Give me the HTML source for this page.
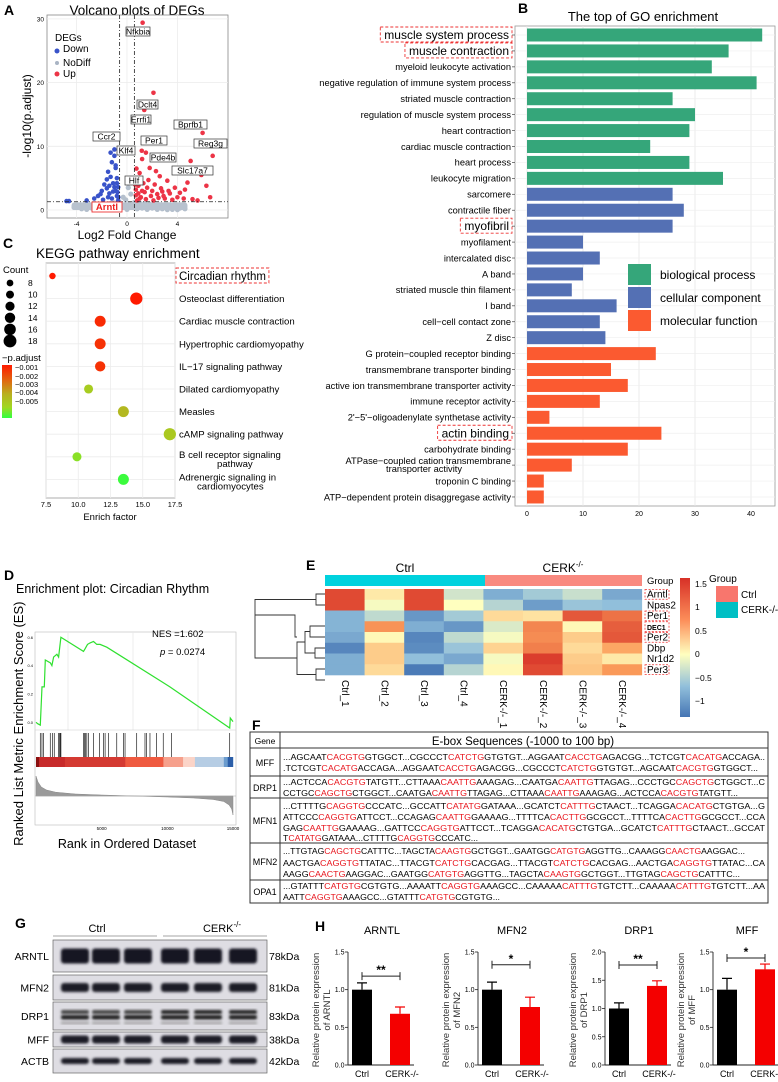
<!DOCTYPE html>
<html><head><meta charset="utf-8"><style>
html,body{margin:0;padding:0;background:#fff;}
svg{display:block;font-family:"Liberation Sans",sans-serif;}
</style></head><body>
<svg id="fig" xmlns="http://www.w3.org/2000/svg" width="778" height="1082" viewBox="0 0 778 1082">
<defs>
<filter id="blur" x="-20%" y="-50%" width="140%" height="200%"><feGaussianBlur stdDeviation="1.4"/></filter>
<linearGradient id="padjGrad" x1="0" y1="0" x2="0" y2="1">
<stop offset="0" stop-color="#ff1a00"/><stop offset="0.3" stop-color="#e06a10"/><stop offset="0.55" stop-color="#b8b020"/><stop offset="0.8" stop-color="#a0d820"/><stop offset="1" stop-color="#30ff40"/></linearGradient>
<linearGradient id="heatGrad" x1="0" y1="0" x2="0" y2="1">
<stop offset="0" stop-color="#d73027"/><stop offset="0.3" stop-color="#fc8d59"/><stop offset="0.55" stop-color="#ffffbf"/><stop offset="0.78" stop-color="#91bfdb"/><stop offset="1" stop-color="#4575b4"/></linearGradient>
</defs>

<!-- ============ Panel A ============ -->
<g>
<text x="4" y="15" font-size="14" font-weight="bold">A</text>
<text x="137" y="15" font-size="13.5" text-anchor="middle">Volcano plots of DEGs</text>
<rect x="47" y="15" width="181" height="203" fill="#fff" stroke="#888" stroke-width="0.8"/>
<g id="volcanoGrid"></g>
<g id="volcano"></g>
<text transform="translate(31,116) rotate(-90)" font-size="12" text-anchor="middle">-log10(p.adjust)</text>
<text x="127" y="239" font-size="12" text-anchor="middle">Log2 Fold Change</text>
<text x="55" y="41" font-size="10">DEGs</text>
<circle cx="57" cy="51" r="2.5" fill="#3953c9"/>
<text x="63" y="52" font-size="10">Down</text>
<circle cx="57" cy="63" r="2" fill="#a9b4c4"/>
<text x="63" y="66" font-size="10">NoDiff</text>
<circle cx="57" cy="74" r="2.5" fill="#ec3446"/>
<text x="63" y="77" font-size="10">Up</text>
<g font-size="8.5">
<rect x="126" y="27" width="24" height="9" fill="#fff" stroke="#333" stroke-width="0.7"/><text x="138" y="34.5" text-anchor="middle">Nfkbia</text>
<rect x="137" y="100" width="21" height="9" fill="#fff" stroke="#333" stroke-width="0.7"/><text x="147.5" y="107.5" text-anchor="middle">Dclt4</text>
<rect x="131" y="115" width="20" height="9" fill="#fff" stroke="#333" stroke-width="0.7"/><text x="141" y="122.5" text-anchor="middle">Errfi1</text>
<rect x="174" y="120" width="33" height="9" fill="#fff" stroke="#333" stroke-width="0.7"/><text x="190.5" y="127.5" text-anchor="middle">Bprfb1</text>
<rect x="194" y="139" width="33" height="9" fill="#fff" stroke="#333" stroke-width="0.7"/><text x="210.5" y="146.5" text-anchor="middle">Reg3g</text>
<rect x="141" y="136" width="26" height="9" fill="#fff" stroke="#333" stroke-width="0.7"/><text x="154" y="143.5" text-anchor="middle">Per1</text>
<rect x="93" y="132" width="27" height="9" fill="#fff" stroke="#333" stroke-width="0.7"/><text x="106.5" y="139.5" text-anchor="middle">Ccr2</text>
<rect x="117" y="146" width="18" height="9" fill="#fff" stroke="#333" stroke-width="0.7"/><text x="126" y="153.5" text-anchor="middle">Klf4</text>
<rect x="150" y="153" width="26" height="9" fill="#fff" stroke="#333" stroke-width="0.7"/><text x="163" y="160.5" text-anchor="middle">Pde4b</text>
<rect x="172" y="166" width="41" height="9" fill="#fff" stroke="#333" stroke-width="0.7"/><text x="192.5" y="173.5" text-anchor="middle">Slc17a7</text>
<rect x="125" y="176" width="18" height="9" fill="#fff" stroke="#333" stroke-width="0.7"/><text x="134" y="183.5" text-anchor="middle">Hlf</text>
<rect x="92" y="202" width="30" height="10" fill="#fff" stroke="#e33" stroke-width="0.9"/><text x="107" y="210" text-anchor="middle" fill="#e22" font-weight="bold" font-size="9.5">Arntl</text>
</g>
</g>

<!-- ============ Panel B ============ -->
<g>
<text x="518" y="13" font-size="14" font-weight="bold">B</text>
<text x="643" y="21" font-size="13" text-anchor="middle">The top of GO enrichment</text>
<rect x="515" y="26" width="260" height="480" fill="#fff" stroke="#999" stroke-width="0.8"/>
<g id="goChart"></g>
<rect x="628" y="264" width="23" height="21" fill="#35a67a"/>
<text x="660" y="279" font-size="12">biological process</text>
<rect x="628" y="287" width="23" height="21" fill="#5470b4"/>
<text x="660" y="302" font-size="12">cellular component</text>
<rect x="628" y="310" width="23" height="21" fill="#fb5a30"/>
<text x="660" y="325" font-size="12">molecular function</text>
</g>

<!-- ============ Panel C ============ -->
<g>
<text x="3" y="248" font-size="14" font-weight="bold">C</text>
<text x="36" y="258" font-size="13.5">KEGG pathway enrichment</text>
<rect x="46" y="263" width="129" height="235" fill="#fff" stroke="#999" stroke-width="0.8"/>
<g id="keggChart"></g>
<text x="110" y="520" font-size="9.5" text-anchor="middle">Enrich factor</text>
<text x="3" y="273" font-size="9.5">Count</text>
<g id="countLegend"></g>
<text x="2" y="361" font-size="9.5">−p.adjust</text>
<rect x="2" y="365" width="10" height="53" fill="url(#padjGrad)"/>
<g font-size="7.5">
<text x="15" y="370">−0.001</text>
<text x="15" y="379">−0.002</text>
<text x="15" y="387">−0.003</text>
<text x="15" y="395">−0.004</text>
<text x="15" y="404">−0.005</text>
</g>
</g>

<!-- ============ Panel D ============ -->
<g>
<text x="4" y="580" font-size="14" font-weight="bold">D</text>
<text x="16" y="593" font-size="12.5">Enrichment plot: Circadian Rhythm</text>
<rect x="35" y="632" width="201" height="193" fill="#fff" stroke="#bbb" stroke-width="0.6"/>
<g id="gsea"></g>
<text x="152" y="637" font-size="9.5">NES =1.602</text>
<text x="160" y="655" font-size="9.5"><tspan font-style="italic">p</tspan> = 0.0274</text>
<text transform="translate(23,668) rotate(-90)" font-size="13" text-anchor="middle">Enrichment Score (ES)</text>
<text transform="translate(23,792) rotate(-90)" font-size="13" text-anchor="middle">Ranked List Metric</text>
<text x="127" y="848" font-size="12.5" text-anchor="middle">Rank in Ordered Dataset</text>
</g>

<!-- ============ Panel E ============ -->
<g>
<text x="306" y="570" font-size="14" font-weight="bold">E</text>
<text x="405" y="572" font-size="12" text-anchor="middle">Ctrl</text>
<text x="563" y="572" font-size="12" text-anchor="middle">CERK<tspan font-size="8" dy="-5">-/-</tspan></text>
<rect x="325" y="575" width="160" height="11" fill="#00d2de"/>
<rect x="485" y="575" width="157" height="11" fill="#f98a80"/>
<text x="647" y="584" font-size="9.5">Group</text>
<path d="M325,594 H316 V605 H325 M316,599.5 H255 V637 M325,626 H310 V637 H325 M325,648 H315 V658 H325 M325,669 H316 V680 H325 M310,631.5 H305 V653 H315 M305,642 H297 V674.5 H316 M297,658 H255 V615 H295 V637 H297" fill="none" stroke="#333" stroke-width="0.9"/>
<g id="heatmap"></g>
<rect x="680" y="578" width="10" height="139" fill="url(#heatGrad)"/>
<g font-size="8.5">
<text x="695" y="587">1.5</text>
<text x="695" y="610">1</text>
<text x="695" y="634">0.5</text>
<text x="695" y="657">0</text>
<text x="695" y="681">−0.5</text>
<text x="695" y="704">−1</text>
</g>
<text x="709" y="582" font-size="10">Group</text>
<rect x="716" y="586" width="22" height="16" fill="#f8766d"/>
<text x="741" y="598" font-size="10">Ctrl</text>
<rect x="716" y="602" width="22" height="16" fill="#00bfc4"/>
<text x="741" y="613" font-size="10">CERK-/-</text>
</g>

<!-- ============ Panel F ============ -->
<g font-size="8.3">
<text x="252" y="730" font-size="14" font-weight="bold">F</text>
<rect x="250" y="732" width="518" height="171" fill="#fff" stroke="#333" stroke-width="1"/>
<line x1="280" y1="732" x2="280" y2="903" stroke="#333" stroke-width="1"/>
<line x1="250" y1="748" x2="768" y2="748" stroke="#333"/>
<line x1="250" y1="776" x2="768" y2="776" stroke="#333"/>
<line x1="250" y1="798" x2="768" y2="798" stroke="#333"/>
<line x1="250" y1="843" x2="768" y2="843" stroke="#333"/>
<line x1="250" y1="880" x2="768" y2="880" stroke="#333"/>
<text x="265" y="744" font-size="8.5" text-anchor="middle">Gene</text>
<text x="523" y="745" font-size="11.5" text-anchor="middle">E-box Sequences (-1000 to 100 bp)</text>
<text x="265" y="766" font-size="9" text-anchor="middle">MFF</text>
<text x="265" y="791" font-size="9" text-anchor="middle">DRP1</text>
<text x="265" y="824" font-size="9" text-anchor="middle">MFN1</text>
<text x="265" y="865" font-size="9" text-anchor="middle">MFN2</text>
<text x="265" y="895" font-size="9" text-anchor="middle">OPA1</text>
<g>
<text x="283" y="760" textLength="482" lengthAdjust="spacingAndGlyphs">...AGCAAT<tspan fill="#e8141c">CACGTG</tspan>GTGGCT...CGCCCT<tspan fill="#e8141c">CATCTG</tspan>GTGTGT...AGGAAT<tspan fill="#e8141c">CACCTG</tspan>AGACGG...TCTCGT<tspan fill="#e8141c">CACATG</tspan>ACCAGA..</text>
<text x="283" y="771" textLength="475" lengthAdjust="spacingAndGlyphs">.TCTCGT<tspan fill="#e8141c">CACATG</tspan>ACCAGA...AGGAAT<tspan fill="#e8141c">CACCTG</tspan>AGACGG...CGCCCT<tspan fill="#e8141c">CATCTG</tspan>GTGTGT...AGCAAT<tspan fill="#e8141c">CACGTG</tspan>GTGGCT...</text>
<text x="283" y="785" textLength="482" lengthAdjust="spacingAndGlyphs">...ACTCCA<tspan fill="#e8141c">CACGTG</tspan>TATGTT...CTTAAA<tspan fill="#e8141c">CAATTG</tspan>AAAGAG...CAATGA<tspan fill="#e8141c">CAATTG</tspan>TTAGAG...CCCTGC<tspan fill="#e8141c">CAGCTG</tspan>CTGGCT...C</text>
<text x="283" y="796" textLength="455" lengthAdjust="spacingAndGlyphs">CCTGC<tspan fill="#e8141c">CAGCTG</tspan>CTGGCT...CAATGA<tspan fill="#e8141c">CAATTG</tspan>TTAGAG...CTTAAA<tspan fill="#e8141c">CAATTG</tspan>AAAGAG...ACTCCA<tspan fill="#e8141c">CACGTG</tspan>TATGTT...</text>
<text x="283" y="809" textLength="482" lengthAdjust="spacingAndGlyphs">...CTTTTG<tspan fill="#e8141c">CAGGTG</tspan>CCCATC...GCCATT<tspan fill="#e8141c">CATATG</tspan>GATAAA...GCATCT<tspan fill="#e8141c">CATTTG</tspan>CTAACT...TCAGGA<tspan fill="#e8141c">CACATG</tspan>CTGTGA...G</text>
<text x="283" y="820" textLength="482" lengthAdjust="spacingAndGlyphs">ATTCCC<tspan fill="#e8141c">CAGGTG</tspan>ATTCCT...CCAGAG<tspan fill="#e8141c">CAATTG</tspan>GAAAAG...TTTTCA<tspan fill="#e8141c">CACTTG</tspan>GCGCCT...TTTTCA<tspan fill="#e8141c">CACTTG</tspan>GCGCCT...CCA</text>
<text x="283" y="831" textLength="482" lengthAdjust="spacingAndGlyphs">GAG<tspan fill="#e8141c">CAATTG</tspan>GAAAAG...GATTCC<tspan fill="#e8141c">CAGGTG</tspan>ATTCCT...TCAGGA<tspan fill="#e8141c">CACATG</tspan>CTGTGA...GCATCT<tspan fill="#e8141c">CATTTG</tspan>CTAACT...GCCAT</text>
<text x="283" y="841" textLength="195" lengthAdjust="spacingAndGlyphs">T<tspan fill="#e8141c">CATATG</tspan>GATAAA...CTTTTG<tspan fill="#e8141c">CAGGTG</tspan>CCCATC...</text>
<text x="283" y="854" textLength="462" lengthAdjust="spacingAndGlyphs">...TTGTAG<tspan fill="#e8141c">CAGCTG</tspan>CATTTC...TAGCTA<tspan fill="#e8141c">CAAGTG</tspan>GCTGGT...GAATGG<tspan fill="#e8141c">CATGTG</tspan>AGGTTG...CAAAGG<tspan fill="#e8141c">CAACTG</tspan>AAGGAC...</text>
<text x="283" y="866" textLength="482" lengthAdjust="spacingAndGlyphs">AACTGA<tspan fill="#e8141c">CAGGTG</tspan>TTATAC...TTACGT<tspan fill="#e8141c">CATCTG</tspan>CACGAG...TTACGT<tspan fill="#e8141c">CATCTG</tspan>CACGAG...AACTGA<tspan fill="#e8141c">CAGGTG</tspan>TTATAC...CA</text>
<text x="283" y="877" textLength="457" lengthAdjust="spacingAndGlyphs">AAGG<tspan fill="#e8141c">CAACTG</tspan>AAGGAC...GAATGG<tspan fill="#e8141c">CATGTG</tspan>AGGTTG...TAGCTA<tspan fill="#e8141c">CAAGTG</tspan>GCTGGT...TTGTAG<tspan fill="#e8141c">CAGCTG</tspan>CATTTC...</text>
<text x="283" y="889" textLength="482" lengthAdjust="spacingAndGlyphs">...GTATTT<tspan fill="#e8141c">CATGTG</tspan>CGTGTG...AAAATT<tspan fill="#e8141c">CAGGTG</tspan>AAAGCC...CAAAAA<tspan fill="#e8141c">CATTTG</tspan>TGTCTT...CAAAAA<tspan fill="#e8141c">CATTTG</tspan>TGTCTT...AA</text>
<text x="283" y="900" textLength="217" lengthAdjust="spacingAndGlyphs">AATT<tspan fill="#e8141c">CAGGTG</tspan>AAAGCC...GTATTT<tspan fill="#e8141c">CATGTG</tspan>CGTGTG...</text>
</g>
</g>

<!-- ============ Panel G ============ -->
<g>
<text x="15" y="928" font-size="14" font-weight="bold">G</text>
<text x="97" y="932" font-size="11" text-anchor="middle">Ctrl</text>
<text x="222" y="932" font-size="11" text-anchor="middle">CERK<tspan font-size="8" dy="-5">-/-</tspan></text>
<line x1="53" y1="936" x2="157" y2="936" stroke="#888" stroke-width="0.8"/>
<line x1="163" y1="936" x2="267" y2="936" stroke="#888" stroke-width="0.8"/>
<g id="blots"></g>
</g>

<!-- ============ Panel H ============ -->
<g>
<text x="315" y="931" font-size="14" font-weight="bold">H</text>
<g id="hCharts"></g>
</g>

<script>
const NS='http://www.w3.org/2000/svg';
function mk(tag,attrs,parent,txt){const e=document.createElementNS(NS,tag);for(const k in attrs)e.setAttribute(k,attrs[k]);if(txt!==undefined)e.textContent=txt;parent.appendChild(e);return e;}

/* ---------- Panel A data ---------- */
const upFC=[1.24,2.1,1.37,6.0,6.8,1.17,1.5,1.2,2.0,5.05,6.6,6.3,5.9,4.8,4.6,3.8,3.2,2.6,2.3,1.8,1.0,0.8,1.3,1.6,2.0,2.4,2.9,3.4,4.0,4.5,5.2,0.7,0.9,1.1,1.5,0.8,1.9,2.7,3.0,3.6,1.2,0.9,2.2,4.2,5.6,0.75,1.4,1.7,2.5,3.3,0.7,1.0,0.65,2.1,2.8];
const upP=[29.4,18.4,15.7,12.1,8.5,9.3,9.0,8.0,7.9,7.7,2.0,3.8,5.5,4.3,3.2,3.5,4.6,5.3,6.1,6.6,5.8,4.8,4.2,3.5,3.0,2.5,2.2,2.6,2.0,1.8,1.7,3.2,2.6,2.0,1.7,1.5,2.2,3.4,1.8,1.6,3.0,3.8,4.0,2.7,1.5,6.5,2.8,4.7,1.9,3.0,2.3,1.8,4.0,1.5,2.9];
const downFC=[-1.13,-1.0,-1.2,-1.5,-1.3,-0.9,-0.8,-1.8,-2.0,-1.6,-1.1,-0.7,-0.9,-1.4,-2.3,-2.6,-1.9,-0.8,-1.2,-0.7,-3.2,-4.6,-4.8,-1.0,-1.3,-0.9,-1.6,-2.1,-1.5,-0.75,-0.8,-1.0,-0.7,-1.1,-1.4];
const downP=[11.5,8.5,7.5,6.0,5.2,6.6,5.0,4.0,3.0,3.4,4.2,3.6,3.0,2.6,2.2,1.8,1.6,2.2,1.8,1.5,1.5,1.4,1.4,9.5,9.0,7.0,4.8,2.5,2.0,2.8,4.2,3.6,2.0,2.9,3.8];
const nsFC=[-4.2,-3.8,-3.4,-3.0,-2.6,-2.2,-1.8,-1.4,-1.0,-0.6,-0.2,0.2,0.6,1.0,1.4,1.8,2.2,2.6,3.0,3.4,3.8,4.2,4.6,-3.6,-2.8,-2.0,-1.2,-0.4,0.4,1.2,2.0,2.8,3.6,-3.2,-2.4,-1.6,-0.8,0,0.8,1.6,2.4,3.2,4.0,-0.3,0.3,0.1,-0.1,0.5,-0.5];
const nsP=[0.4,0.6,0.5,0.7,0.8,0.6,0.9,1.0,1.1,1.2,0.8,0.9,1.2,1.1,1.0,0.9,0.7,0.8,0.6,0.5,0.4,0.3,0.2,0.2,0.3,0.3,0.4,0.4,0.5,0.3,0.3,0.2,0.1,0.1,0.1,0.2,0.2,0.1,0.2,0.1,0.1,0.05,0.05,2.0,2.5,3.5,1.6,0.6,0.6];
const volXTicks=[-4,0,4];
const volYTicks=[0,10,20,30];
(function(){
 const g=document.getElementById('volcano'),gg=document.getElementById('volcanoGrid');
 const X=v=>127+v*12.6, Y=v=>210-v*6.37;
 volXTicks.forEach(t=>{const l=mk('line',{x1:X(t),x2:X(t),y1:15,y2:218,stroke:'#ececec','stroke-width':0.8},gg);
  
  
  const tx=mk('text',{x:X(t),y:226,'font-size':6.5,'text-anchor':'middle'},gg,t);
  
  });
 volYTicks.forEach(t=>{const l=mk('line',{x1:47,x2:228,y1:Y(t),y2:Y(t),stroke:'#ececec','stroke-width':0.8},gg);
  
  
  const tx=mk('text',{x:44,y:Y(t)+2.5,'font-size':6.5,'text-anchor':'end'},gg,t);
  
  });
 nsFC.forEach((v,i)=>{const c=mk('circle',{cx:X(v),cy:Y(nsP[i]),r:2.6,fill:'#b4bfcc'},g);
  
  });
 mk('rect',{x:X(-4.4),y:Y(1.2),width:X(4.8)-X(-4.4),height:Y(0)-Y(1.2),fill:'#b8c2ce',rx:3},g);
 downFC.forEach((v,i)=>{const c=mk('circle',{cx:X(v),cy:Y(downP[i]),r:2.3,fill:'#3953c9'},g);
  
  });
 upFC.forEach((v,i)=>{const c=mk('circle',{cx:X(v),cy:Y(upP[i]),r:2.3,fill:'#ec3446'},g);
  
  });
 [-0.585,0.585].forEach(v=>{const l=mk('line',{x1:X(v),x2:X(v),y1:15,y2:218,stroke:'#222','stroke-width':0.8,'stroke-dasharray':'4,2,1,2'},g);
  
  });
 const h=mk('line',{x1:47,x2:228,y1:Y(1.3),y2:Y(1.3),stroke:'#222','stroke-width':0.8,'stroke-dasharray':'4,2,1,2'},g);
 
 
})();

/* ---------- Panel B data ---------- */
const goTerms=["muscle system process","muscle contraction","myeloid leukocyte activation","negative regulation of immune system process","striated muscle contraction","regulation of muscle system process","heart contraction","cardiac muscle contraction","heart process","leukocyte migration","sarcomere","contractile fiber","myofibril","myofilament","intercalated disc","A band","striated muscle thin filament","I band","cell−cell contact zone","Z disc","G protein−coupled receptor binding","transmembrane transporter binding","active ion transmembrane transporter activity","immune receptor activity","2'−5'−oligoadenylate synthetase activity","actin binding","carbohydrate binding","ATPase−coupled cation transmembrane transporter activity","troponin C binding","ATP−dependent protein disaggregase activity"];
const goCounts=[42,36,33,41,26,30,29,22,29,35,26,28,26,10,13,10,8,16,13,14,23,15,18,13,4,24,18,8,3,3];
const goCategory=["bp","bp","bp","bp","bp","bp","bp","bp","bp","bp","cc","cc","cc","cc","cc","cc","cc","cc","cc","cc","mf","mf","mf","mf","mf","mf","mf","mf","mf","mf"];
const goHighlight=[0,1,12,25];
const goTicks=[0,10,20,30,40];
(function(){
 const g=document.getElementById('goChart');
 const col={bp:'#35a67a',cc:'#5470b4',mf:'#fb5a30'};
 const X=v=>527+v*5.6, Y=i=>35+i*15.93;
 goTicks.forEach(t=>{const l=mk('line',{x1:X(t),x2:X(t),y1:26,y2:506,stroke:'#e6e6e6','stroke-width':0.8},g);
  
  
  const tx=mk('text',{x:X(t),y:516,'font-size':7,'text-anchor':'middle'},g,t);
  
  });
 goTerms.forEach((t,i)=>{
  mk('line',{x1:515,x2:775,y1:Y(i),y2:Y(i),stroke:'#efefef','stroke-width':0.7},g);
  const r=mk('rect',{x:X(0),y:Y(i)-6.5,width:X(goCounts[i])-X(0),height:13,fill:col[goCategory[i]]},g);
  
  
  const big=goHighlight.includes(i);
  if(i===27){
   const a=mk('text',{x:511,y:Y(i)-1,'font-size':9.3,'text-anchor':'end'},g,'ATPase−coupled cation transmembrane');
   
   
   const b=mk('text',{x:462,y:Y(i)+7,'font-size':9.3,'text-anchor':'end'},g,'transporter activity');
   
   
  } else {
   const tx=mk('text',{x:big?509:511,y:Y(i)+(big?4:3.3),'font-size':big?12:9.3,'text-anchor':'end'},g,t);
   
   
   if(big){const w=tx.getComputedTextLength();
    const bx=mk('rect',{x:509-w-4,y:Y(i)-8,width:w+7,height:15,fill:'none',stroke:'#e33','stroke-width':0.9,'stroke-dasharray':'3,2'},g);
    
    }
  }
  mk('line',{x1:512,x2:515,y1:Y(i),y2:Y(i),stroke:'#444','stroke-width':0.7},g);
 });
})();

/* ---------- Panel C data ---------- */
const keggTerms=["Circadian rhythm","Osteoclast differentiation","Cardiac muscle contraction","Hypertrophic cardiomyopathy","IL−17 signaling pathway","Dilated cardiomyopathy","Measles","cAMP signaling pathway","B cell receptor signaling|pathway","Adrenergic signaling in|cardiomyocytes"];
const keggFactor=[8.0,14.5,11.7,11.7,11.7,10.8,13.5,17.1,9.9,13.5];
const keggCount=[7,16,14,14,13,11,14,16,11,14];
const keggPadj=[-0.0005,-0.001,-0.0012,-0.0013,-0.0013,-0.0037,-0.0032,-0.0036,-0.0042,-0.0049];
const keggXTicks=[7.5,10.0,12.5,15.0,17.5];
const countLegend=[8,10,12,14,16,18];
(function(){
 const g=document.getElementById('keggChart');
 const X=v=>46+(v-7.5)*12.9, Y=i=>276+i*22.6, R=c=>1+c*0.32;
 const stops=[[-0.001,[255,26,0]],[-0.002,[224,106,16]],[-0.003,[184,176,32]],[-0.004,[160,216,32]],[-0.005,[48,255,64]]];
 function colr(p){if(p>=-0.001)return 'rgb(255,26,0)';if(p<=-0.005)return 'rgb(48,255,64)';
  for(let k=0;k<4;k++){const a=stops[k],b=stops[k+1];if(p<=a[0]&&p>=b[0]){const t=(a[0]-p)/(a[0]-b[0]);
   return 'rgb('+a[1].map((c,j)=>Math.round(c+(b[1][j]-c)*t)).join(',')+')';}}}
 keggXTicks.forEach(t=>{const l=mk('line',{x1:X(t),x2:X(t),y1:263,y2:498,stroke:'#ececec','stroke-width':0.8},g);
  
  
  const tx=mk('text',{x:X(t),y:507,'font-size':7.5,'text-anchor':'middle'},g,t.toFixed(1));
  
  });
 keggTerms.forEach((t,i)=>{
  mk('line',{x1:46,x2:175,y1:Y(i),y2:Y(i),stroke:'#ececec','stroke-width':0.8},g);
  const c=mk('circle',{cx:X(keggFactor[i]),cy:Y(i),r:R(keggCount[i]),fill:colr(keggPadj[i])},g);
  
  
  const parts=t.split('|');
  if(i===0){
   const tx=mk('text',{x:179,y:Y(i)+4,'font-size':11.5},g,t);
   
   
   const w=tx.getComputedTextLength();
   const bx=mk('rect',{x:176,y:Y(i)-8,width:w+6,height:15,fill:'none',stroke:'#e33','stroke-width':0.9,'stroke-dasharray':'3,2'},g);
   
   
  } else if(parts.length===1){
   const tx=mk('text',{x:179,y:Y(i)+3.5,'font-size':9.6},g,t);
   
   
  } else {
   const a=mk('text',{x:179,y:Y(i)+1,'font-size':9.6},g,parts[0]);
   
   
   const b=mk('text',{x:179+ (i===8?38:18),y:Y(i)+10,'font-size':9.6},g,parts[1]);
   
   
  }
 });
 const cl=document.getElementById('countLegend');
 countLegend.forEach((c,k)=>{const y=283+k*11.6;
  const d=mk('circle',{cx:10,cy:y,r:R(c)*0.95,fill:'#000'},cl);
  
  
  const tx=mk('text',{x:28,y:y+3,'font-size':8.5},cl,c);
  
  });
})();

/* ---------- Panel D data ---------- */
const esRank=[0,126,329,455,632,708,1088,1214,1340,1594,1720,1897,3617,3744,3921,4123,4376,4629,4882,5388,9688,10194,14747,14798,15000];
const esValue=[0.0,-0.01,-0.02,0.25,0.25,0.44,0.42,0.40,0.46,0.48,0.46,0.60,0.50,0.52,0.55,0.56,0.57,0.55,0.55,0.53,0.28,0.25,-0.04,0.03,0.005];
const hitRanks=[329,455,582,1088,1265,1391,1720,1796,1847,1897,3617,3693,3769,3870,3997,4376,4831,5135,5262,5515,6148,6654,6780,7666,8298,8425,8678,9184,9690,10323,14747];
const metricRank=[0,150,400,800,1500,3000,5000,7500,10000,12000,13500,14300,14700,14900,15000];
const metricValue=[2.0,1.4,0.9,0.6,0.38,0.2,0.1,0.0,-0.1,-0.2,-0.35,-0.55,-0.9,-1.3,-1.9];
const rankTicks=[5000,10000,15000];
(function(){
 const g=document.getElementById('gsea');
 const X=r=>36+r/15000*197, Y=v=>722.3-v*141.7, M=m=>796-m*10;
 [68,133,198].forEach(x=>mk('line',{x1:x,x2:x,y1:632,y2:730,stroke:'#e8e8e8','stroke-width':0.8},g));
 mk('line',{x1:35,x2:236,y1:730,y2:730,stroke:'#ccc','stroke-width':0.6},g);
 const pts=esRank.map((r,i)=>X(r).toFixed(1)+','+Y(esValue[i]).toFixed(1)).join(' ');
 const pl=mk('polyline',{points:pts,fill:'none',stroke:'#2fe02f','stroke-width':1.2},g);
 
 
 hitRanks.forEach(r=>{const l=mk('line',{x1:X(r),x2:X(r),y1:733,y2:757,stroke:'#222','stroke-width':0.7},g);
  
  });
 const segs=[[0,2200,'#c72a2a'],[2200,6800,'#d43a32'],[6800,9700,'#ef5a40'],[9700,11200,'#f6a08c'],[11200,12100,'#fbd4c8'],[12100,14300,'#b6cde4'],[14300,15000,'#6b9cce']];
 segs.forEach(s=>{const r=mk('rect',{x:X(s[0]),y:757,width:X(s[1])-X(s[0])+0.3,height:10,fill:s[2]},g);
  
  });
 mk('rect',{x:X(14600),y:757,width:X(15000)-X(14600),height:10,fill:'#2b5ea8'},g);
 mk('rect',{x:X(0),y:757,width:3,height:10,fill:'#8a1010'},g);
 let d='M'+X(0)+','+M(0);
 metricRank.forEach((r,i)=>{d+=' L'+X(r).toFixed(1)+','+M(metricValue[i]).toFixed(1);});
 d+=' L'+X(15000)+','+M(0)+' Z';
 const a=mk('path',{d:d,fill:'#9a9a9a',stroke:'#888','stroke-width':0.5},g);
 
 
 mk('line',{x1:35,x2:236,y1:796,y2:796,stroke:'#aaa','stroke-width':0.5},g);
 rankTicks.forEach(r=>{const t=mk('text',{x:X(r),y:830,'font-size':4.5,'text-anchor':'middle'},g,r);
  
  });
 [[0.0,'0.0'],[0.2,'0.2'],[0.4,'0.4'],[0.6,'0.6']].forEach(p=>mk('text',{x:33,y:Y(p[0])+1.5,'font-size':4,'text-anchor':'end'},g,p[1]));
})();

/* ---------- Panel E data ---------- */
const heatGenes=["Arntl","Npas2","Per1","DEC1","Per2","Dbp","Nr1d2","Per3"];
const heatSamples=["Ctrl_1","Ctrl_2","Ctrl_3","Ctrl_4","CERK-/-_1","CERK-/-_2","CERK-/-_3","CERK-/-_4"];
const rowArntl=[1.3,0.15,1.3,-0.25,-0.75,-0.5,-0.3,-0.8];
const rowNpas2=[1.3,-0.05,1.3,0.0,-0.4,-0.9,-0.55,-0.6];
const rowPer1=[-0.7,-0.35,-0.95,-0.5,0.25,0.2,1.2,1.0];
const rowDEC1=[-0.7,0.75,-0.75,-0.95,-0.2,0.85,0.05,1.15];
const rowPer2=[-0.8,0.05,-1.1,-0.35,-0.05,0.8,0.35,1.2];
const rowDbp=[-1.1,0.35,-1.05,-0.55,0.3,0.9,0.25,0.6];
const rowNr1d2=[-0.75,0.35,-0.6,-0.8,-0.05,1.4,0.35,0.15];
const rowPer3=[-0.75,0.25,-1.2,-0.4,0.05,1.3,0.4,0.7];
const heatRows=[rowArntl,rowNpas2,rowPer1,rowDEC1,rowPer2,rowDbp,rowNr1d2,rowPer3];
const heatBoxed=["Arntl","Per1","DEC1","Per2","Per3"];
(function(){
 const g=document.getElementById('heatmap');
 const cw=39.6,rh=10.75;
 const st=[[-1.25,[69,117,180]],[-0.6,[145,191,219]],[0,[255,255,191]],[0.65,[252,160,92]],[1.5,[215,48,39]]];
 function hc(v){v=Math.max(-1.25,Math.min(1.5,v));for(let k=0;k<4;k++){const a=st[k],b=st[k+1];if(v>=a[0]&&v<=b[0]){const t=(v-a[0])/(b[0]-a[0]);return 'rgb('+a[1].map((c,j)=>Math.round(c+(b[1][j]-c)*t)).join(',')+')';}}}
 heatRows.forEach((row,i)=>{row.forEach((v,j)=>{
  const r=mk('rect',{x:325+j*cw,y:589+i*rh,width:cw+0.3,height:rh+0.3,fill:hc(v)},g);
  
  });
  const big=heatGenes[i]==='DEC1';
  const tx=mk('text',{x:647,y:589+i*rh+8.5,'font-size':big?7:10,'font-weight':big?'bold':'normal'},g,heatGenes[i]);
  
  
  if(heatBoxed.includes(heatGenes[i])){const b=mk('rect',{x:645,y:589+i*rh+0.5,width:24,height:rh-1,fill:'none',stroke:'#e33','stroke-width':0.8,'stroke-dasharray':'2,1.5'},g);
   
   }
 });
 heatSamples.forEach((s,j)=>{const x=325+j*cw+cw/2-3;
  const tx=mk('text',{transform:'translate('+x+',680) rotate(90)','font-size':10},g,s);
  
  });
})();

/* ---------- Panel G ---------- */
const blotNames=["ARNTL","MFN2","DRP1","MFF","ACTB"];
const blotKDa=["78kDa","81kDa","83kDa","38kDa","42kDa"];
(function(){
 const g=document.getElementById('blots');
 const rows=[[940,972],[975,1000],[1002,1030],[1032,1047],[1049,1073]];
 const lanes=[75,106,138,175,208,243];
 rows.forEach((rw,k)=>{
  const bg=mk('rect',{x:53,y:rw[0],width:214,height:rw[1]-rw[0],fill:'#dedde3',stroke:'#666','stroke-width':0.7},g);
  
  
  const cy=(rw[0]+rw[1])/2;
  lanes.forEach((x,j)=>{
   if(k===2){mk('rect',{x:x-14,y:cy-6,width:28,height:4,rx:2,fill:j>2?'#222':'#444',filter:'url(#blur)'},g);
     mk('rect',{x:x-14,y:cy-1,width:28,height:4.5,rx:2,fill:'#222',filter:'url(#blur)'},g);
     mk('rect',{x:x-14,y:cy+6,width:28,height:2,fill:'#999',filter:'url(#blur)'},g);}
   else{const h=k===0?15:(k===4?6:(k===3?8:9));
     const b=mk('rect',{x:x-14,y:cy-h/2,width:28,height:h,rx:3,fill:k===0?'#141420':'#1c1c28',filter:'url(#blur)'},g);
     
     }
  });
  const lb=mk('text',{x:49,y:cy+4,'font-size':10.5,'text-anchor':'end'},g,blotNames[k]);
  
  
  const kd=mk('text',{x:269,y:cy+4,'font-size':10.5},g,blotKDa[k]);
  
  
 });
})();

/* ---------- Panel H data ---------- */
const hProteins=["ARNTL","MFN2","DRP1","MFF"];
const hCtrlMean=[1.0,1.0,1.0,1.0];
const hCtrlErr=[0.09,0.1,0.1,0.15];
const hCerkMean=[0.68,0.77,1.4,1.27];
const hCerkErr=[0.09,0.13,0.09,0.07];
const hYMax=[1.5,1.5,2.0,1.5];
const hSigLevel=[1.18,1.33,1.77,1.42];
const hSigText=["**","*","**","*"];
(function(){
 const g=document.getElementById('hCharts');
 const axes=[348,478,605,713];
 hProteins.forEach((p,k)=>{
  const x0=axes[k], Y=v=>1065-v/hYMax[k]*113;
  const t=mk('text',{x:x0+34,y:934,'font-size':11,'text-anchor':'middle'},g,p);
  
  
  mk('line',{x1:x0,x2:x0,y1:Y(hYMax[k]),y2:1065,stroke:'#222','stroke-width':0.9},g);
  mk('line',{x1:x0,x2:x0+66,y1:1065,y2:1065,stroke:'#222','stroke-width':0.9},g);
  for(let v=0;v<=hYMax[k]+1e-9;v+=0.5){
   mk('line',{x1:x0-3,x2:x0,y1:Y(v),y2:Y(v),stroke:'#222','stroke-width':0.8},g);
   const tx=mk('text',{x:x0-3.5,y:Y(v)+2.5,'font-size':7,'text-anchor':'end'},g,v.toFixed(1));
   
   }
  const b1=mk('rect',{x:x0+4,y:Y(hCtrlMean[k]),width:20,height:1065-Y(hCtrlMean[k]),fill:'#000'},g);
  
  
  const b2=mk('rect',{x:x0+42,y:Y(hCerkMean[k]),width:20,height:1065-Y(hCerkMean[k]),fill:'#f40000'},g);
  
  
  [[x0+14,hCtrlMean[k],hCtrlErr[k],'#000'],[x0+52,hCerkMean[k],hCerkErr[k],'#f40000']].forEach(e=>{
   const l=mk('path',{d:'M'+e[0]+','+Y(e[1])+' V'+Y(e[1]+e[2])+' M'+(e[0]-5)+','+Y(e[1]+e[2])+' H'+(e[0]+5),stroke:e[3],'stroke-width':1.2,fill:'none'},g);
   
   });
  const sy=Y(hSigLevel[k]);
  const br=mk('path',{d:'M'+(x0+14)+','+(sy-4)+' V'+(sy+4)+' M'+(x0+14)+','+sy+' H'+(x0+52)+' M'+(x0+52)+','+(sy-4)+' V'+(sy+4),stroke:'#222','stroke-width':1,fill:'none'},g);
  
  
  const st=mk('text',{x:x0+33,y:sy-2,'font-size':12,'font-weight':'bold','text-anchor':'middle'},g,hSigText[k]);
  
  
  const c1=mk('text',{x:x0+14,y:1077,'font-size':9,'text-anchor':'middle'},g,'Ctrl');
  
  
  const c2=mk('text',{x:x0+54,y:1077,'font-size':9,'text-anchor':'middle'},g,'CERK-/-');
  
  
  const y1=mk('text',{transform:'translate('+(x0-29)+',1010) rotate(-90)','font-size':9.5,'text-anchor':'middle',fill:'#333'},g,'Relative protein expression');
  
  
  const y2=mk('text',{transform:'translate('+(x0-18)+',1010) rotate(-90)','font-size':9.5,'text-anchor':'middle',fill:'#333'},g,'of '+p);
  
  
 });
})();
</script>
</svg>
</body></html>
